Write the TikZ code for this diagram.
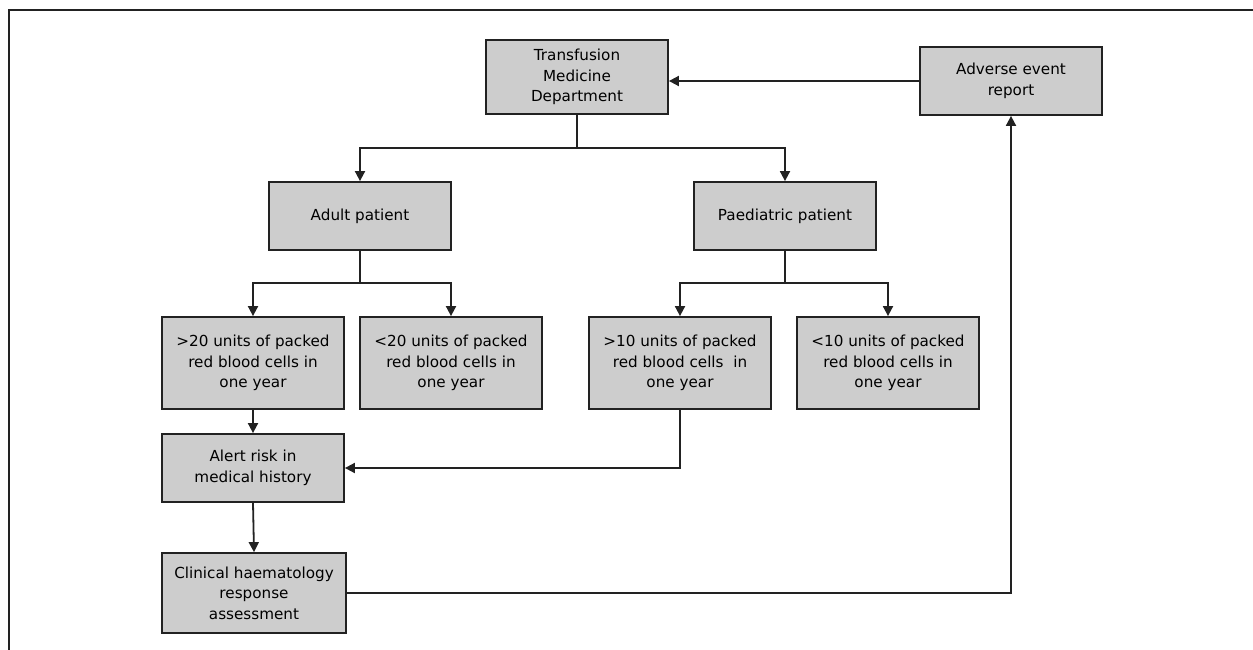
\documentclass[tikz,border=0pt]{standalone}
\usepackage{fontspec}
\setmainfont{DejaVu Sans}
\usetikzlibrary{arrows.meta,calc}
\definecolor{boxfill}{HTML}{CDCDCD}
\definecolor{linecol}{HTML}{222222}
\begin{document}
\begin{tikzpicture}[x=1pt,y=-1pt,
  box/.style={draw=linecol,line width=1.8pt,fill=boxfill,align=center,inner sep=0pt,
    font=\fontsize{15.2}{20.5}\selectfont,text=black},
  conn/.style={draw=linecol,line width=1.8pt},
  arr/.style={conn,-{Triangle[length=10pt,width=10pt]}}]
\useasboundingbox (0,0) rectangle (1253,650);
\draw[linecol,line width=2pt] (9,650) -- (9,10) -- (1253,10);

\node[box,minimum width=182pt,minimum height=74pt] (tmd) at (577,77) {Transfusion\\Medicine\\Department};
\node[box,minimum width=182pt,minimum height=68pt] (adv) at (1011,81) {Adverse event\\report};
\node[box,minimum width=182pt,minimum height=68pt] (adult) at (360,216) {Adult patient};
\node[box,minimum width=182pt,minimum height=68pt] (paed) at (785,216) {Paediatric patient};
\node[box,minimum width=182pt,minimum height=92pt] (g20) at (253,363) {>20 units of packed\\red blood cells in\\one year};
\node[box,minimum width=182pt,minimum height=92pt] (l20) at (451,363) {<20 units of packed\\red blood cells in\\one year};
\node[box,minimum width=182pt,minimum height=92pt] (g10) at (680,363) {>10 units of packed\\red blood cells\ \ in\\one year};
\node[box,minimum width=182pt,minimum height=92pt] (l10) at (888,363) {<10 units of packed\\red blood cells in\\one year};
\node[box,minimum width=182pt,minimum height=68pt] (alert) at (253,468) {Alert risk in\\medical history};
\node[box,minimum width=184pt,minimum height=80pt] (clin) at (254,593) {Clinical haematology\\response\\assessment};

\coordinate (j1) at (577,148);
\coordinate (j2) at (360,283);
\coordinate (j3) at (785,283);

\draw[conn] (tmd.south) -- (j1);
\draw[arr] (j1) -| (adult.north);
\draw[arr] (j1) -| (paed.north);
\draw[conn] (adult.south) -- (j2);
\draw[arr] (j2) -| (g20.north);
\draw[arr] (j2) -| (l20.north);
\draw[conn] (paed.south) -- (j3);
\draw[arr] (j3) -| (g10.north);
\draw[arr] (j3) -| (l10.north);
\draw[arr] (g20.south) -- (alert.north);
\draw[arr] (g10.south) |- (alert.east);
\draw[arr] (alert.south) -- (clin.north);
\draw[arr] (clin.east) -| (adv.south);
\draw[arr] (adv.west) -- (tmd.east |- adv.west);
\end{tikzpicture}
\end{document}
